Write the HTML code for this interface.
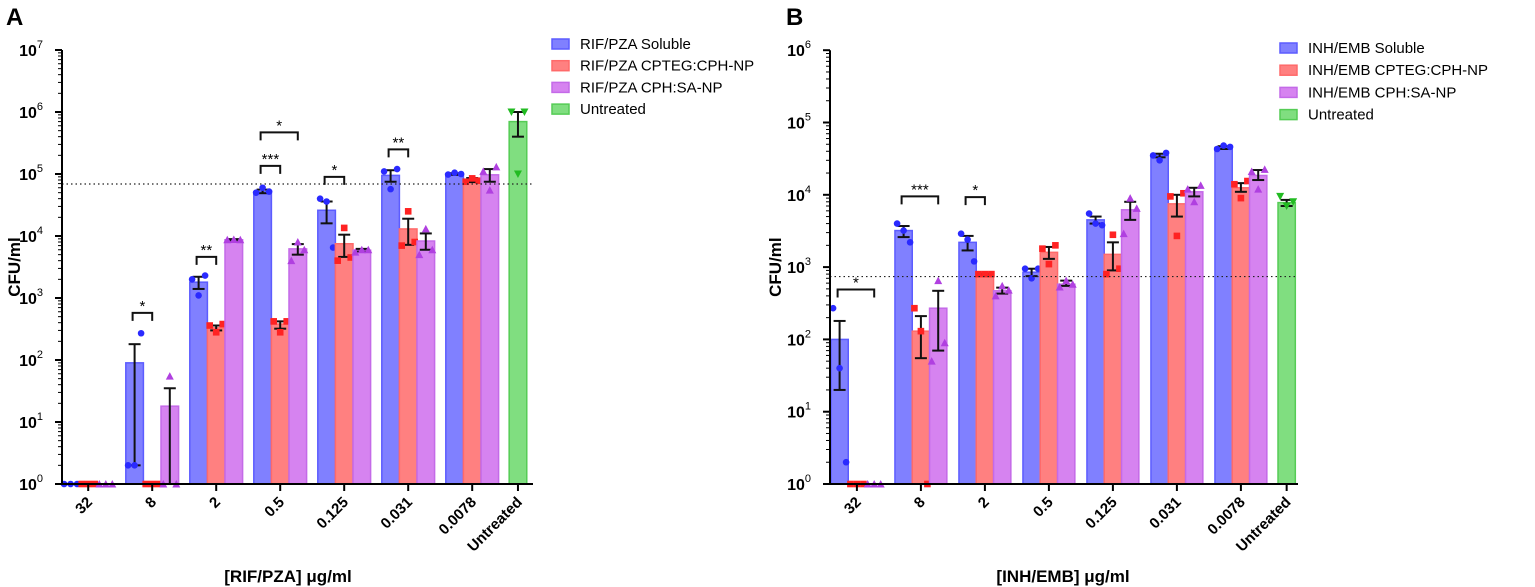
<!DOCTYPE html>
<html><head><meta charset="utf-8">
<style>
body{margin:0;background:#fff;}
svg{display:block;font-family:"Liberation Sans",Arial,sans-serif;}
.tl{font-size:16px;font-weight:bold;}
.xl{font-size:15px;font-weight:bold;}
.ttl{font-size:17px;font-weight:bold;}
.lg{font-size:15px;}
</style></head>
<body>
<svg id="c" width="1535" height="587" viewBox="0 0 1535 587"></svg>
<script>
const categories=["32","8","2","0.5","0.125","0.031","0.0078"];
const seriesA=["RIF/PZA Soluble","RIF/PZA CPTEG:CPH-NP","RIF/PZA CPH:SA-NP","Untreated"];
const seriesB=["INH/EMB Soluble","INH/EMB CPTEG:CPH-NP","INH/EMB CPH:SA-NP","Untreated"];
// Panel A means [blue, red, purple]
const meanA_sol=[1,90,1800,52000,26000,95000,100000];
const meanA_cpteg=[1,1,330,380,7500,13000,80000];
const meanA_sa=[1,18,8700,6200,5900,8300,97000];
const meanA_untr=700000;
const errA_sol=[[1,1],[2,180],[1400,2200],[49000,56000],[16000,36000],[75000,115000],[97000,103000]];
const errA_cpteg=[[1,1],[1,1],[300,360],[320,420],[4600,10500],[7200,19000],[74000,86000]];
const errA_sa=[[1,1],[1,35],[8500,8900],[5000,7400],[5600,6200],[6000,11000],[75000,120000]];
const errA_untr=[400000,1000000];
const ptsA_sol=[[1,1,1],[2,2,270],[2000,1100,2300],[50000,60000,52000],[40000,36000,6500],[110000,57000,120000],[98000,105000,100000]];
const ptsA_cpteg=[[1,1,1],[1,1,1],[360,280,380],[420,280,420],[4000,13500,4500],[7000,25000,8000],[75000,85000,78000]];
const ptsA_sa=[[1,1,1],[1,55,1],[8700,8800,8700],[4000,8000,6000],[5500,6000,6000],[5000,13000,6000],[110000,55000,130000]];
const ptsA_untr=[1000000,100000,1000000];
const thresholdA=69000;
// Panel B
const meanB_sol=[100,3200,2200,850,4500,35000,45000];
const meanB_cpteg=[1,130,800,1600,1500,7500,12500];
const meanB_sa=[1,270,470,580,6200,11000,18500];
const meanB_untr=7800;
const errB_sol=[[20,180],[2600,3700],[1700,2700],[750,950],[4000,5000],[33000,37000],[43000,47000]];
const errB_cpteg=[[1,1],[55,210],[790,810],[1300,1900],[900,2200],[5000,10000],[11000,14500]];
const errB_sa=[[1,1],[70,470],[430,520],[550,650],[4500,8000],[9500,12500],[16000,22000]];
const errB_untr=[7000,8500];
const ptsB_sol=[[270,40,2],[4000,3200,2200],[2900,2400,1200],[950,700,950],[5500,4000,3800],[35000,30000,38000],[43000,48000,46000]];
const ptsB_cpteg=[[1,1,1],[270,130,1],[800,800,800],[1800,1100,2000],[800,2800,950],[9500,2700,10500],[14000,9000,15500]];
const ptsB_sa=[[1,1,1],[50,650,90],[400,550,480],[530,650,580],[2900,9000,6500],[12000,8000,13500],[21000,12000,22500]];
const ptsB_untr=[9500,7000,8000];
const thresholdB=740;
// significance brackets: [group, fromSeries, toSeries, value, label]
const sigA=[[1,0,1,575,"*"],[2,0,1,4600,"**"],[3,0,1,135000,"***"],[3,0,2,470000,"*"],[4,0,1,90000,"*"],[5,0,1,250000,"**"]];
const sigB=[[0,0,2,490,"*"],[1,0,2,9500,"***"],[2,0,1,9300,"*"]];

const NS="http://www.w3.org/2000/svg";
const svg=document.getElementById('c');
function mk(tag,attrs,parent){const e=document.createElementNS(NS,tag);for(const k in attrs)e.setAttribute(k,attrs[k]);(parent||svg).appendChild(e);return e;}
const fills=["#8080ff","#ff8080","#d683f0","#80de80"];
const strokes=["#5c5cff","#ff6a6a","#c46ae8","#55cc55"];
const ptc=["#2a2aff","#ff2222","#b040e0","#22bb22"];

function panel(cfg){
  const g=mk('g',{});
  
  
  const y=v=>cfg.y0-Math.log10(v)*cfg.dec;
  const gx=i=>cfg.x0g+i*cfg.gs;
  const bw=cfg.bw;
  const means=[cfg.m0,cfg.m1,cfg.m2], errs=[cfg.e0,cfg.e1,cfg.e2], pts=[cfg.p0,cfg.p1,cfg.p2];
  function drawBar(cx,m,err,p,s){
    if(m>1){
      const r=mk('rect',{x:cx-bw/2,y:y(m),width:bw,height:cfg.y0-y(m),fill:fills[s],stroke:strokes[s],'stroke-width':1.5},g);
      
      
    }
    if(err[1]>err[0]){
      mk('line',{x1:cx,x2:cx,y1:y(err[0]),y2:y(err[1]),stroke:'#111','stroke-width':2},g);
      mk('line',{x1:cx-6,x2:cx+6,y1:y(err[0]),y2:y(err[0]),stroke:'#111','stroke-width':2},g);
      mk('line',{x1:cx-6,x2:cx+6,y1:y(err[1]),y2:y(err[1]),stroke:'#111','stroke-width':2},g);
    }
    p.forEach((v,k)=>{
      const px=cx+(k-1)*6.5, py=y(v);
      let e;
      if(s===0) e=mk('circle',{cx:px,cy:py,r:3.3,fill:ptc[s]},g);
      else if(s===1) e=mk('rect',{x:px-3.3,y:py-3.3,width:6.6,height:6.6,fill:ptc[s]},g);
      else if(s===2) e=mk('polygon',{points:`${px},${py-4} ${px-4},${py+3.5} ${px+4},${py+3.5}`,fill:ptc[s]},g);
      else e=mk('polygon',{points:`${px},${py+4} ${px-4},${py-3.5} ${px+4},${py-3.5}`,fill:ptc[s]},g);
      
      
    });
  }
  categories.forEach((c,i)=>{
    for(let s=0;s<3;s++) drawBar(gx(i)+(s-1)*bw,means[s][i],errs[s][i],pts[s][i],s);
  });
  const ux=gx(0)+7*cfg.gs-cfg.gs*0.285;
  drawBar(ux,cfg.mu,cfg.eu,cfg.pu,3);
  const th=mk('line',{x1:cfg.ax,x2:cfg.axEnd,y1:y(cfg.th),y2:y(cfg.th),stroke:'#222','stroke-width':1.2,'stroke-dasharray':'1.5,3'},g);
  
  
  mk('line',{x1:cfg.ax,x2:cfg.ax,y1:y(10**cfg.decades),y2:cfg.y0+1,stroke:'#000','stroke-width':2},g);
  mk('line',{x1:cfg.ax,x2:cfg.axEnd,y1:cfg.y0,y2:cfg.y0,stroke:'#000','stroke-width':2},g);
  for(let d=0;d<=cfg.decades;d++){
    mk('line',{x1:cfg.ax-7,x2:cfg.ax,y1:y(10**d),y2:y(10**d),stroke:'#000','stroke-width':2},g);
    const t=mk('text',{x:cfg.ax-19,y:y(10**d)+6,'text-anchor':'end',class:'tl'},g);
    t.textContent='10';
    const sup=mk('tspan',{dy:-8,style:'font-size:11px;font-weight:normal'},t);
    sup.textContent=String(d);
    
    
    if(d<cfg.decades) for(let m=2;m<10;m++){
      mk('line',{x1:cfg.ax-4,x2:cfg.ax,y1:y(m*10**d),y2:y(m*10**d),stroke:'#000','stroke-width':1},g);
    }
  }
  const xs=categories.map((c,i)=>[c,gx(i)]).concat([["Untreated",ux]]);
  xs.forEach(([lab,x])=>{
    mk('line',{x1:x,x2:x,y1:cfg.y0,y2:cfg.y0+7,stroke:'#000','stroke-width':2},g);
    const t=mk('text',{x:x+5,y:cfg.y0+19,'text-anchor':'end',class:'xl',transform:`rotate(-45 ${x+5} ${cfg.y0+19})`},g);
    t.textContent=lab;
    
    
  });
  cfg.sig.forEach(([gi,a,b,v,lab])=>{
    const x1=gx(gi)+(a-1)*bw-2, x2=gx(gi)+(b-1)*bw, yy=y(v);
    const p=mk('path',{d:`M${x1},${yy+8}V${yy}H${x2}V${yy+8}`,fill:'none',stroke:'#111','stroke-width':2},g);
    
    
    const t=mk('text',{x:(x1+x2)/2,y:yy-2,'text-anchor':'middle',style:'font-size:15px'},g);
    t.textContent=lab;
  });
  const my=(cfg.y0+y(10**cfg.decades))/2;
  const yt=mk('text',{x:cfg.ytx,y:my,'text-anchor':'middle',class:'ttl',transform:`rotate(-90 ${cfg.ytx} ${my})`},g);
  yt.textContent='CFU/ml';
  
  
  const xt=mk('text',{x:cfg.xtx,y:582,'text-anchor':'middle',class:'ttl'},g);
  xt.textContent=cfg.xtitle;
  
  
  const pl=mk('text',{x:cfg.plx,y:25,style:'font-size:24px;font-weight:bold'},g);
  pl.textContent=cfg.letter;
  
  
  cfg.series.forEach((s,i)=>{
    const yy=cfg.lgy+i*cfg.lgs;
    const r=mk('rect',{x:cfg.lgx,y:yy-5,width:17,height:10,fill:fills[i],stroke:strokes[i],'stroke-width':1.5},g);
    
    
    const t=mk('text',{x:cfg.lgx+28,y:yy+5,class:'lg'},g);
    t.textContent=s;
    
    
  });
}
panel({name:'panel-a',key:'a',letter:'A',plx:6,y0:484,dec:62,decades:7,ax:62,axEnd:533,x0g:88.2,gs:64,bw:17.6,
  m0:meanA_sol,m1:meanA_cpteg,m2:meanA_sa,e0:errA_sol,e1:errA_cpteg,e2:errA_sa,p0:ptsA_sol,p1:ptsA_cpteg,p2:ptsA_sa,
  mu:meanA_untr,eu:errA_untr,pu:ptsA_untr,th:thresholdA,sig:sigA,ytx:20,xtx:288,xtitle:'[RIF/PZA] μg/ml',
  series:seriesA,lgx:552,lgy:44,lgs:21.7});
panel({name:'panel-b',key:'b',letter:'B',plx:786,y0:484,dec:72.3,decades:6,ax:830,axEnd:1298,x0g:856.9,gs:64,bw:17.3,
  m0:meanB_sol,m1:meanB_cpteg,m2:meanB_sa,e0:errB_sol,e1:errB_cpteg,e2:errB_sa,p0:ptsB_sol,p1:ptsB_cpteg,p2:ptsB_sa,
  mu:meanB_untr,eu:errB_untr,pu:ptsB_untr,th:thresholdB,sig:sigB,ytx:781,xtx:1063,xtitle:'[INH/EMB] μg/ml',
  series:seriesB,lgx:1280,lgy:48,lgs:22.2});
</script>
</body></html>
